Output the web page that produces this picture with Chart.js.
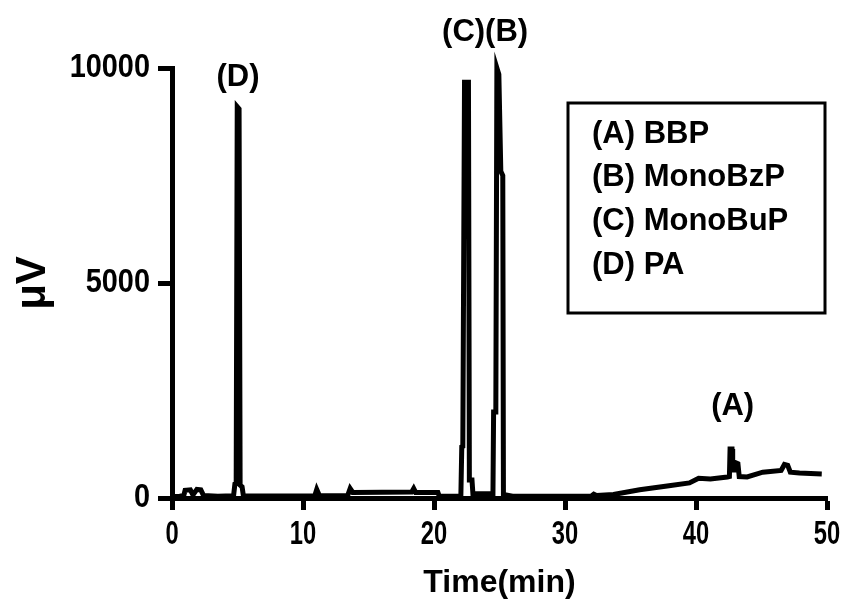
<!DOCTYPE html>
<html>
<head>
<meta charset="utf-8">
<title>Chromatogram</title>
<script src="https://cdn.jsdelivr.net/npm/chart.js@4.4.0/dist/chart.umd.min.js"></script>
<style>
  html, body { margin: 0; padding: 0; background: #fff; }
  #wrap { width: 847px; height: 605px; }
</style>
</head>
<body>
<div id="wrap"><canvas id="chromChart" width="847" height="605"></canvas></div>
<script>
// Retention time (min) and detector signal (µV)
const times = [
  0, 0.6, 0.9, 1.0, 1.4, 1.6, 1.9, 2.2, 2.4, 3.5,
  4.7, 4.8, 4.9, 4.98, 5.12, 5.2, 5.35, 5.45, 8.0, 10.9,
  11.05, 11.25, 13.4, 13.6, 13.8, 18.3, 18.45, 18.6, 20.3, 20.4,
  22.05, 22.12, 22.2, 22.33, 22.63, 22.7, 22.9, 22.97, 24.5, 24.55,
  24.72, 24.8, 24.95, 25.1, 25.25, 25.3, 26.0, 32.0, 32.2, 32.4,
  33.7, 35.7, 37.8, 39.5, 40.2, 41.1, 42.4, 42.55, 42.6, 42.75,
  42.8, 43.0, 43.05, 43.2, 43.3, 43.9, 45.1, 46.5, 46.75, 47.0,
  47.2, 47.9, 49.6
];
const signal = [
  30, 40, 60, 180, 190, 70, 200, 190, 60, 40,
  50, 320, 330, 9100, 9050, 300, 260, 50, 45, 50,
  200, 60, 50, 220, 130, 140, 220, 130, 130, 40,
  40, 1190, 1200, 9670, 9670, 420, 420, 100, 100, 2000,
  2000, 10000, 9850, 7600, 7500, 80, 40, 40, 90, 60,
  80, 190, 280, 350, 460, 440, 490, 500, 1140, 1140,
  650, 650, 820, 800, 500, 490, 600, 640, 780, 760,
  600, 580, 560
];

const xTicks = [0, 10, 20, 30, 40, 50];
const yTicks = [0, 5000, 10000];

const peakLabels = ['(D)', '(C)(B)', '(A)'];
const peakLabelTimes = [5.04, 23.9, 42.8];
const peakLabelGap = [29, 36, 43];

const legendLines = ['(A) BBP', '(B) MonoBzP', '(C) MonoBuP', '(D) PA'];

const boldFont = '"Liberation Sans", Arial, sans-serif';

// condensed bold text (the figure uses a narrow face)
function narrowText(ctx, txt, x, y, size, squeeze, align) {
  ctx.save();
  ctx.translate(x, y);
  ctx.scale(squeeze, 1);
  ctx.font = 'bold ' + size + 'px ' + boldFont;
  ctx.textAlign = align;
  ctx.textBaseline = 'middle';
  ctx.fillText(txt, 0, 0);
  ctx.restore();
}

// Draws tick labels, peak labels and the boxed key
const annotations = {
  id: 'annotations',
  afterDraw(chart) {
    const ctx = chart.ctx;
    const xs = chart.scales.x;
    const ys = chart.scales.y;
    const area = chart.chartArea;
    ctx.save();
    ctx.fillStyle = '#000';
    ctx.strokeStyle = '#000';

    xs.ticks.forEach(tk => {
      narrowText(ctx, String(tk.value), xs.getPixelForValue(tk.value), area.bottom + 37, 33, 0.72, 'center');
    });
    ys.ticks.forEach(tk => {
      narrowText(ctx, String(tk.value), area.left - 22, ys.getPixelForValue(tk.value), 34, 0.85, 'right');
    });

    ctx.textAlign = 'center';
    ctx.textBaseline = 'middle';
    ctx.font = 'bold 31px ' + boldFont;
    peakLabels.forEach((txt, i) => {
      let apex = 0;
      times.forEach((t, j) => {
        if (Math.abs(t - peakLabelTimes[i]) < 1.7) apex = Math.max(apex, signal[j]);
      });
      const x = xs.getPixelForValue(peakLabelTimes[i]);
      const y = ys.getPixelForValue(apex) - peakLabelGap[i];
      ctx.fillText(txt, x, y);
    });

    // key box
    const bx = area.right - 259, by = area.top + 35, bw = 257, bh = 210;
    ctx.lineWidth = 3;
    ctx.strokeRect(bx, by, bw, bh);
    ctx.textAlign = 'left';
    legendLines.forEach((txt, i) => {
      ctx.fillText(txt, bx + 24, by + 31 + i * 43.7);
    });
    ctx.restore();
  }
};

new Chart(document.getElementById('chromChart'), {
  type: 'line',
  data: {
    datasets: [{
      data: times.map((t, i) => ({ x: t, y: signal[i] })),
      borderColor: '#000',
      borderWidth: 5,
      borderJoinStyle: 'miter',
      pointRadius: 0,
      tension: 0,
      fill: false,
      clip: false
    }]
  },
  options: {
    responsive: false,
    animation: false,
    layout: { padding: { top: 68, right: 20, left: 0, bottom: 0 } },
    plugins: {
      legend: { display: false },
      tooltip: { enabled: false }
    },
    scales: {
      x: {
        type: 'linear',
        min: 0,
        max: 50,
        afterFit(scale) { scale.height = 107; },
        afterBuildTicks(scale) { scale.ticks = xTicks.map(v => ({ value: v })); },
        border: { display: true, color: '#000', width: 5 },
        grid: { drawOnChartArea: false, drawTicks: true, tickLength: 12, tickWidth: 5, tickColor: '#000' },
        ticks: { display: false },
        title: {
          display: true,
          text: 'Time(min)',
          color: '#000',
          padding: { top: 0, bottom: 3 },
          font: { family: boldFont, size: 32, weight: 'bold' }
        }
      },
      y: {
        min: 0,
        max: 10000,
        afterFit(scale) { scale.width = 172; },
        afterBuildTicks(scale) { scale.ticks = yTicks.map(v => ({ value: v })); },
        border: { display: true, color: '#000', width: 5 },
        grid: { drawOnChartArea: false, drawTicks: true, tickLength: 14, tickWidth: 5, tickColor: '#000' },
        ticks: { display: false },
        title: {
          display: true,
          text: 'μV',
          color: '#000',
          padding: { top: 8, bottom: 0 },
          font: { family: boldFont, size: 42, weight: 'bold' }
        }
      }
    }
  },
  plugins: [annotations]
});
</script>
</body>
</html>
